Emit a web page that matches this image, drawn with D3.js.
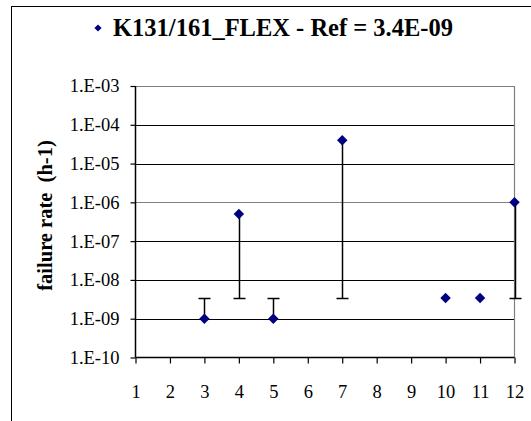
<!DOCTYPE html>
<html>
<head>
<meta charset="utf-8">
<script src="https://cdn.jsdelivr.net/npm/d3@7"></script>
<style>
  html, body { margin: 0; padding: 0; background: #fff; }
  svg { display: block; font-family: "Liberation Serif", "Times New Roman", serif; }
</style>
</head>
<body>
<svg id="chart" width="531" height="421"></svg>
<script>
// Test points and their failure rates (per hour)
const positions = [3, 4, 5, 7, 10, 11, 12];
const failureRates = [1e-9, 5e-7, 1e-9, 4e-5, 3.4e-9, 3.4e-9, 1e-6];
const refRate = 3.4e-9;
const xTicks = [1, 2, 3, 4, 5, 6, 7, 8, 9, 10, 11, 12];
const yTicks = [1e-10, 1e-9, 1e-8, 1e-7, 1e-6, 1e-5, 1e-4, 1e-3];
const titleText = "K131/161_FLEX - Ref = 3.4E-09";
const yTitle = "failure rate  (h-1)";

const FONT = "'Liberation Serif', 'Times New Roman', serif";
const svg = d3.select("#chart");
const plot = { left: 135.5, top: 86, right: 514.5, bottom: 357.5 };

const x = d3.scaleLinear().domain([1, 12]).range([plot.left, plot.right]);
const y = d3.scaleLog().domain([1e-10, 1e-3]).range([plot.bottom, plot.top]);

const fmt = v => {
  const e = Math.round(Math.log10(v));
  return "1.E-" + String(-e).padStart(2, "0");
};

// outer chart frame
svg.append("rect")
  .attr("x", 11.5).attr("y", 6.5)
  .attr("width", 600).attr("height", 600)
  .attr("fill", "none").attr("stroke", "#000").attr("stroke-width", 1);

// horizontal gridlines at each decade
svg.append("g").selectAll("line")
  .data(yTicks.filter(t => t > 1e-10 && t < 1e-3))
  .join("line")
  .attr("x1", plot.left).attr("x2", plot.right)
  .attr("y1", d => Math.round(y(d)) + 0.5).attr("y2", d => Math.round(y(d)) + 0.5)
  .attr("stroke", d => d === 1e-6 ? "#808080" : "#000")
  .attr("stroke-width", 1);

// plot-area border (top and right)
svg.append("path")
  .attr("d", `M${plot.left},${plot.top + 0.5}H${plot.right}V${plot.bottom}`)
  .attr("fill", "none").attr("stroke", "#808080").attr("stroke-width", 1.2);

// y axis
const yAxis = d3.axisLeft(y).tickValues(yTicks).tickFormat(fmt).tickSize(5).tickPadding(11);
const gy = svg.append("g").attr("transform", `translate(${plot.left},0)`).call(yAxis);
gy.select(".domain").attr("stroke", "#000").attr("stroke-width", 1.5).attr("d", `M0,${plot.top}V${plot.bottom}`);
gy.selectAll(".tick line").attr("stroke", "#000").attr("stroke-width", 1.2);
gy.selectAll(".tick text").attr("font-family", FONT)
  .attr("font-size", 18.5).attr("fill", "#000");

// x axis
const xAxis = d3.axisBottom(x).tickValues(xTicks).tickFormat(d3.format("d")).tickSize(6).tickPadding(21);
const gx = svg.append("g").attr("transform", `translate(0,${plot.bottom})`).call(xAxis);
gx.select(".domain").attr("stroke", "#000").attr("stroke-width", 1.5).attr("d", `M${plot.left},0H${plot.right}`);
gx.selectAll(".tick line").attr("stroke", "#000").attr("stroke-width", 1.2);
gx.selectAll(".tick text").attr("font-family", FONT)
  .attr("font-size", 18.5).attr("fill", "#000");

// error bars from each value to the reference rate
const pts = positions.map((p, i) => ({ p, v: failureRates[i] }));
const bars = svg.append("g").selectAll("g")
  .data(pts.filter(d => Math.abs(Math.log10(d.v) - Math.log10(refRate)) > 0.01))
  .join("g");
bars.append("line")
  .attr("x1", d => Math.round(x(d.p)) + 0.5).attr("x2", d => Math.round(x(d.p)) + 0.5)
  .attr("y1", d => y(d.v)).attr("y2", d => Math.round(y(refRate)) + 0.5)
  .attr("stroke", "#000").attr("stroke-width", 1.5);
bars.append("line")
  .attr("x1", d => Math.round(x(d.p)) - 5.5).attr("x2", d => Math.round(x(d.p)) + 6.5)
  .attr("y1", d => Math.round(y(refRate)) + 0.5).attr("y2", d => Math.round(y(refRate)) + 0.5)
  .attr("stroke", "#000").attr("stroke-width", 1.5);

// data markers
svg.append("g").selectAll("path")
  .data(pts)
  .join("path")
  .attr("transform", d => `translate(${x(d.p)},${y(d.v)}) rotate(45)`)
  .attr("d", d3.symbol().type(d3.symbolSquare).size(55)())
  .attr("fill", "#000080");

// title with legend marker
svg.append("text")
  .attr("x", 283).attr("y", 35.5)
  .attr("text-anchor", "middle")
  .attr("font-family", FONT)
  .attr("font-weight", "bold").attr("font-size", 24.5)
  .attr("fill", "#000")
  .text(titleText);
svg.append("path")
  .attr("transform", "translate(98,28) rotate(45)")
  .attr("d", d3.symbol().type(d3.symbolSquare).size(26)())
  .attr("fill", "#000080");

// y-axis title
svg.append("text")
  .attr("transform", `translate(52,${215.5}) rotate(-90)`)
  .attr("text-anchor", "middle")
  .attr("font-family", FONT)
  .attr("font-weight", "bold").attr("font-size", 20.5)
  .attr("fill", "#000")
  .style("white-space", "pre")
  .text(yTitle);
</script>
</body>
</html>
